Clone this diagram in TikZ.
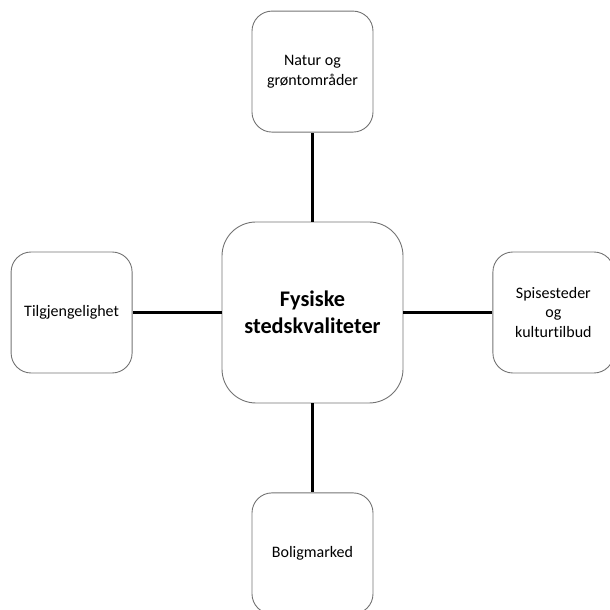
\documentclass[tikz,border=0pt]{standalone}
\usepackage{fontspec}
\setmainfont{Carlito}[Ligatures=NoCommon]
\usetikzlibrary{positioning}

\begin{document}
\begin{tikzpicture}[x=1pt, y=1pt, node distance=89pt,
  boks/.style={draw=black!55, line width=0.9pt, rounded corners=20pt, minimum size=121pt,
    align=center, font=\fontsize{16}{19.5}\selectfont},
  senter/.style={draw=black!55, line width=0.9pt, rounded corners=34pt, minimum size=181pt,
    align=center, font=\bfseries\fontsize{22.3}{27}\selectfont},
  kobling/.style={line width=2.4pt}]
\clip (0,0) rectangle (610,610);
\useasboundingbox (0,0) rectangle (610,610);
% midten og de fire kvalitetene
\node[senter] (hub) at (312.5,297.5) {Fysiske\\stedskvaliteter};
\node[boks, above=of hub] (natur) {Natur og\\grøntområder};
\node[boks, left=of hub] (tilgang) {Tilgjengelighet};
\node[boks, right=of hub] (spise) {Spisesteder\\og\\kulturtilbud};
\node[boks, below=of hub] (bolig) {Boligmarked};
\foreach \n in {natur,tilgang,spise,bolig}
 \draw[kobling] (hub) -- (\n);
\end{tikzpicture}
\end{document}
